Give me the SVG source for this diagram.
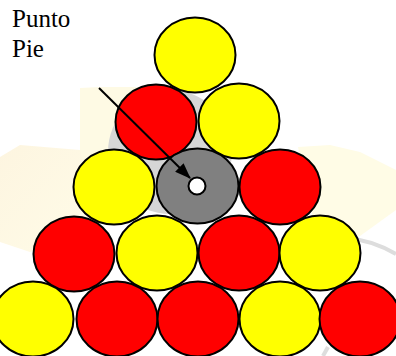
<svg xmlns="http://www.w3.org/2000/svg" width="396" height="356" viewBox="0 0 396 356">
<defs>
<style>
.ball{stroke:#000;stroke-width:2}
.y{fill:#ffff00}
.r{fill:#ff0000}
.g{fill:#808080}
.lbl{font-family:"Liberation Serif","Times New Roman",serif;font-size:25px;fill:#000}
.wm{stroke:none}
</style>
<marker id="ah" viewBox="0 0 16 12" refX="15" refY="6" markerWidth="16" markerHeight="12" markerUnits="userSpaceOnUse" orient="auto">
<path d="M0,0 L16,6 L0,12 Z" fill="#000"/>
</marker>
<linearGradient id="cr" x1="0" y1="0" x2="1" y2="1">
<stop offset="0" stop-color="#fdf5e0"/>
<stop offset="1" stop-color="#fffce8"/>
</linearGradient>
</defs>
<rect width="396" height="356" fill="#fff"/>
<g id="watermark">
<polygon class="wm" points="80,88 100,87 165,87 165,170 80,170" fill="#fefae4"/>
<polygon class="wm" points="0,157 20,145 80,150 100,230 30,252 0,242" fill="url(#cr)"/>
<polygon class="wm" points="298,147 330,145 360,152 396,170 396,210 360,236 318,242" fill="#fffce6"/>
<circle class="wm" cx="170" cy="152" r="62" fill="#d6d6d6"/>
<path d="M342,237 Q372,240 396,254" fill="none" stroke="#dddddd" stroke-width="4"/>
<path d="M323,356 L328,347" fill="none" stroke="#dddddd" stroke-width="4"/>
</g>
<g id="label">
<text class="lbl" x="12" y="27">Punto</text>
<text class="lbl" x="12" y="57">Pie</text>
</g>
<g id="ball-1"><ellipse class="ball y" cx="195" cy="55" rx="40.5" ry="37.5"/></g>
<g id="ball-2"><ellipse class="ball r" cx="156" cy="122" rx="40.5" ry="37.5"/></g>
<g id="ball-3"><ellipse class="ball y" cx="239" cy="121" rx="40.5" ry="37.5"/></g>
<g id="ball-4"><ellipse class="ball y" cx="114" cy="187" rx="40.5" ry="37.5"/></g>
<g id="ball-5"><ellipse class="ball g" cx="197.5" cy="186" rx="41" ry="37.5"/><circle cx="197" cy="186" r="8.5" fill="#fff" stroke="#000" stroke-width="2"/></g>
<g id="ball-6"><ellipse class="ball r" cx="280" cy="187" rx="40.5" ry="37.5"/></g>
<g id="ball-7"><ellipse class="ball r" cx="74" cy="254" rx="40.5" ry="37.5"/></g>
<g id="ball-8"><ellipse class="ball y" cx="157" cy="253" rx="40.5" ry="37.5"/></g>
<g id="ball-9"><ellipse class="ball r" cx="239" cy="253" rx="40.5" ry="37.5"/></g>
<g id="ball-10"><ellipse class="ball y" cx="320" cy="253" rx="40.5" ry="37.5"/></g>
<g id="ball-11"><ellipse class="ball y" cx="33" cy="319" rx="40.5" ry="37.5"/></g>
<g id="ball-12"><ellipse class="ball r" cx="117" cy="319" rx="40.5" ry="37.5"/></g>
<g id="ball-13"><ellipse class="ball r" cx="198" cy="319" rx="40.5" ry="37.5"/></g>
<g id="ball-14"><ellipse class="ball y" cx="280" cy="319" rx="40.5" ry="37.5"/></g>
<g id="ball-15"><ellipse class="ball r" cx="360" cy="319" rx="40.5" ry="37.5"/></g>
<g id="connectors">
<line x1="99" y1="88" x2="190" y2="178" stroke="#000" stroke-width="2" marker-end="url(#ah)"/>
</g>
</svg>
